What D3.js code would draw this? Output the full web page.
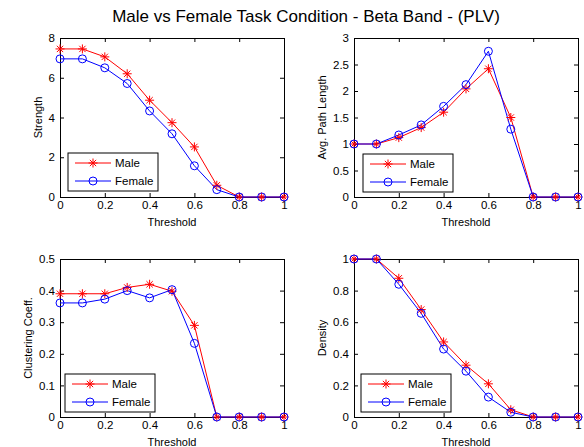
<!DOCTYPE html>
<html>
<head>
<meta charset="utf-8">
<script src="https://cdn.jsdelivr.net/npm/d3@7"></script>
<style>
  html, body { margin: 0; padding: 0; background: #fff; }
  svg { display: block; font-family: Arial, "Liberation Sans", sans-serif; }
</style>
</head>
<body>
<svg id="fig" width="584" height="447"></svg>
<script>
// Threshold values shared by all four panels
const thresholds = [0, 0.1, 0.2, 0.3, 0.4, 0.5, 0.6, 0.7, 0.8, 0.9, 1];
const xTicks = [0, 0.2, 0.4, 0.6, 0.8, 1];

// Strength
const strengthMale   = [7.45, 7.45, 7.05, 6.2, 4.87, 3.74, 2.52, 0.59, 0, 0, 0];
const strengthFemale = [6.95, 6.95, 6.5, 5.71, 4.33, 3.18, 1.57, 0.37, 0, 0, 0];
const strengthTicks  = [0, 2, 4, 6, 8];

// Average path length
const pathMale   = [1, 1, 1.12, 1.31, 1.6, 2.04, 2.42, 1.5, 0, 0, 0];
const pathFemale = [1, 1, 1.17, 1.36, 1.71, 2.12, 2.75, 1.28, 0, 0, 0];
const pathTicks  = [0, 0.5, 1, 1.5, 2, 2.5, 3];

// Clustering coefficient
const clusterMale   = [0.39, 0.39, 0.39, 0.41, 0.42, 0.398, 0.29, 0, 0, 0, 0];
const clusterFemale = [0.361, 0.361, 0.373, 0.40, 0.377, 0.403, 0.233, 0, 0, 0, 0];
const clusterTicks  = [0, 0.1, 0.2, 0.3, 0.4, 0.5];

// Density
const densityMale   = [1, 1, 0.878, 0.68, 0.475, 0.328, 0.21, 0.046, 0, 0, 0];
const densityFemale = [1, 1, 0.84, 0.656, 0.43, 0.29, 0.126, 0.03, 0, 0, 0];
const densityTicks  = [0, 0.2, 0.4, 0.6, 0.8, 1];

const seriesNames = ["Male", "Female"];
const titleText = "Male vs Female Task Condition - Beta Band - (PLV)";

const RED = "#ff0000", BLUE = "#0000ff";

const panels = [
  { box: [60, 38, 284, 197],  ylab: "Strength",          ymax: 8,   yt: strengthTicks, m: strengthMale, f: strengthFemale, ylx: 38, leg: [68, 153] },
  { box: [354, 38, 578, 197], ylab: "Avg. Path Length",  ymax: 3,   yt: pathTicks,     m: pathMale,     f: pathFemale,     ylx: 322, leg: [363, 154] },
  { box: [60, 259, 284, 417], ylab: "Clustering Coeff.", ymax: 0.5, yt: clusterTicks,  m: clusterMale,  f: clusterFemale,  ylx: 28, leg: [65, 374] },
  { box: [354, 259, 578, 417],ylab: "Density",           ymax: 1,   yt: densityTicks,  m: densityMale,  f: densityFemale,  ylx: 322, leg: [361, 374] }
];

const svg = d3.select("#fig");

svg.append("text")
  .attr("x", 306).attr("y", 22)
  .attr("text-anchor", "middle")
  .attr("font-size", 17)
  .attr("fill", "#000")
  .text(titleText);

function star(g, x, y, s) {
  const a = s * 0.7;
  g.append("path")
    .attr("d", `M${x - s},${y}H${x + s}M${x},${y - s}V${y + s}M${x - a},${y - a}L${x + a},${y + a}M${x - a},${y + a}L${x + a},${y - a}`)
    .attr("stroke", RED).attr("stroke-width", 1).attr("fill", "none");
}
function circ(g, x, y, r) {
  g.append("circle").attr("cx", x).attr("cy", y).attr("r", r)
    .attr("stroke", BLUE).attr("stroke-width", 1).attr("fill", "none");
}

panels.forEach(p => {
  const [x0, y0, x1, y1] = p.box;
  const x = d3.scaleLinear().domain([0, 1]).range([x0, x1]);
  const y = d3.scaleLinear().domain([0, p.ymax]).range([y1, y0]);
  const g = svg.append("g");

  g.append("rect").attr("x", x0).attr("y", y0).attr("width", x1 - x0).attr("height", y1 - y0)
    .attr("fill", "#fff").attr("stroke", "none");

  // axes with inward ticks on all four sides
  const tl = 4;
  const axB = g.append("g").attr("transform", `translate(0,${y1})`)
    .call(d3.axisBottom(x).tickValues(xTicks).tickSize(-tl).tickPadding(4).tickFormat(d3.format("~g")));
  const axT = g.append("g").attr("transform", `translate(0,${y0})`)
    .call(d3.axisTop(x).tickValues(xTicks).tickSize(-tl).tickFormat(""));
  const axL = g.append("g").attr("transform", `translate(${x0},0)`)
    .call(d3.axisLeft(y).tickValues(p.yt).tickSize(-tl).tickPadding(5).tickFormat(d3.format("~g")));
  const axR = g.append("g").attr("transform", `translate(${x1},0)`)
    .call(d3.axisRight(y).tickValues(p.yt).tickSize(-tl).tickFormat(""));
  [axB, axT, axL, axR].forEach(a => {
    a.select(".domain").attr("stroke", "#000").attr("stroke-width", 1);
    a.selectAll(".tick line").attr("stroke", "#000");
    a.selectAll("text").attr("font-size", 11.5).attr("fill", "#000")
      .attr("font-family", "Arial, 'Liberation Sans', sans-serif");
  });

  g.append("text").attr("x", (x0 + x1) / 2).attr("y", y1 + 29)
    .attr("text-anchor", "middle").attr("font-size", 11).attr("fill", "#000")
    .text("Threshold");
  g.append("text").attr("transform", `translate(${p.ylx},${(y0 + y1) / 2}) rotate(-90)`)
    .attr("text-anchor", "middle").attr("dy", "0.35em").attr("font-size", 11).attr("fill", "#000")
    .text(p.ylab);

  const line = d3.line().x((d, i) => x(thresholds[i])).y(d => y(d));
  g.append("path").datum(p.m).attr("d", line).attr("fill", "none").attr("stroke", RED).attr("stroke-width", 1);
  g.append("path").datum(p.f).attr("d", line).attr("fill", "none").attr("stroke", BLUE).attr("stroke-width", 1);
  p.m.forEach((v, i) => star(g, x(thresholds[i]), y(v), 4.5));
  p.f.forEach((v, i) => circ(g, x(thresholds[i]), y(v), 4));

  // legend
  const [lx, ly] = p.leg;
  const lg = g.append("g").attr("transform", `translate(${lx},${ly})`);
  lg.append("rect").attr("x", 0).attr("y", 0).attr("width", 90).attr("height", 38)
    .attr("fill", "#fff").attr("stroke", "#000").attr("stroke-width", 1);
  seriesNames.forEach((name, k) => {
    const ry = 10 + k * 18;
    lg.append("line").attr("x1", 7).attr("x2", 43).attr("y1", ry).attr("y2", ry)
      .attr("stroke", k === 0 ? RED : BLUE).attr("stroke-width", 1);
    if (k === 0) star(lg, 25, ry, 4.5); else circ(lg, 25, ry, 4);
    lg.append("text").attr("x", 47).attr("y", ry).attr("dy", "0.35em")
      .attr("font-size", 11.5).attr("fill", "#000").text(name);
  });
});
</script>
</body>
</html>
